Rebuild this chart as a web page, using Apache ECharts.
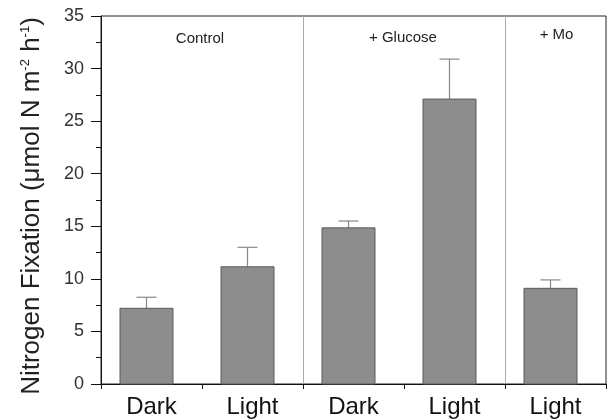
<!DOCTYPE html>
<html>
<head>
<meta charset="utf-8">
<script src="https://cdn.jsdelivr.net/npm/echarts@6/dist/echarts.min.js"></script>
<style>
  html, body { margin: 0; padding: 0; background: #fff; }
  #chart { width: 608px; height: 420px; }
</style>
</head>
<body>
<div id="chart"></div>
<script>
// Nitrogen fixation rates by treatment and light condition
const categories = ['Dark', 'Light', 'Dark', 'Light', 'Light'];
const fixation = [7.2, 11.15, 14.85, 27.1, 9.1];
const errorTop = [8.25, 13.0, 15.5, 30.9, 9.9];
const yTicks = [0, 5, 10, 15, 20, 25, 30, 35];

// Treatment groups: label, centre (in category units), separator position
const groupNames = ['Control', '+ Glucose', '+ Mo'];
const groupCentres = [0.98, 2.99, 4.51];
const groupLabelY = [32.8, 32.95, 33.2];
const separators = [2, 4];

const FONT = 'Liberation Sans, Arial, Helvetica, sans-serif';
const BAR_SHIFT = -5;

const chart = echarts.init(document.getElementById('chart'));

chart.setOption({
  animation: false,
  grid: {
    left: 101, right: 2, top: 16, bottom: 36,
    show: true, borderColor: '#222', borderWidth: 1, backgroundColor: 'transparent'
  },
  xAxis: [{
    type: 'category',
    data: categories,
    boundaryGap: true,
    axisLine: { lineStyle: { color: '#111', width: 1 } },
    axisTick: { show: true, length: 5, inside: false, interval: 0, lineStyle: { color: '#111' } },
    axisLabel: { color: '#111', fontSize: 24, fontFamily: FONT, margin: 11, interval: 0 }
  }, {
    type: 'value', min: 0, max: 5, show: false
  }],
  yAxis: {
    type: 'value',
    min: 0, max: 35, interval: 5,
    splitLine: { show: false },
    axisLine: { show: true, lineStyle: { color: '#111', width: 1 } },
    axisTick: { show: true, length: 10, lineStyle: { color: '#111' } },
    minorTick: { show: true, splitNumber: 2, length: 5, lineStyle: { color: '#111' } },
    axisLabel: {
      color: '#333', fontSize: 18, fontFamily: FONT, margin: 17,
      formatter: v => (yTicks.includes(v) ? String(v) : '')
    },
    name: '{n|Nitrogen Fixation (μmol N m}{s|-2}{n| h}{s|-1}{n|)}',
    nameLocation: 'middle',
    nameGap: 56,
    nameTextStyle: {
      padding: [0, 12, 0, 0],
      rich: {
        n: { fontSize: 26, fontFamily: FONT, color: '#222' },
        s: { fontSize: 13, fontFamily: FONT, color: '#222', verticalAlign: 'top', padding: [0, 0, 13, 0] }
      }
    }
  },
  series: [{
    // treatment separators
    type: 'line',
    xAxisIndex: 1,
    data: [],
    markLine: {
      silent: true,
      symbol: 'none',
      label: { show: false },
      lineStyle: { color: '#aaa', width: 1, type: 'solid' },
      data: separators.map(x => ({ xAxis: x }))
    }
  }, {
    // bars with error whiskers
    type: 'custom',
    xAxisIndex: 0,
    data: fixation.map((v, i) => [i, v, errorTop[i]]),
    renderItem: function (params, api) {
      const i = api.value(0);
      const base = api.coord([i, 0]);
      const top = api.coord([i, api.value(1)]);
      const err = api.coord([i, api.value(2)]);
      const cx = base[0] + BAR_SHIFT;
      const w = 53, cap = 20;
      return {
        type: 'group',
        children: [{
          type: 'line',
          shape: { x1: cx, y1: top[1], x2: cx, y2: err[1] },
          style: { stroke: '#888', lineWidth: 1.2 }
        }, {
          type: 'line',
          shape: { x1: cx - cap / 2, y1: err[1], x2: cx + cap / 2, y2: err[1] },
          style: { stroke: '#888', lineWidth: 1.2 }
        }, {
          type: 'rect',
          shape: { x: cx - w / 2, y: top[1], width: w, height: base[1] - top[1] },
          style: { fill: '#8d8d8d', stroke: '#5a5a5a', lineWidth: 1 }
        }]
      };
    },
    z: 3
  }, {
    // treatment labels
    type: 'custom',
    xAxisIndex: 1,
    data: groupNames.map((n, i) => [groupCentres[i], groupLabelY[i], n]),
    renderItem: function (params, api) {
      const p = api.coord([api.value(0), api.value(1)]);
      return {
        type: 'text',
        style: {
          x: p[0], y: p[1], text: groupNames[params.dataIndex],
          align: 'center', verticalAlign: 'middle',
          fontSize: 15, fontFamily: FONT, fill: '#222'
        }
      };
    },
    z: 4
  }]
});
</script>
</body>
</html>
